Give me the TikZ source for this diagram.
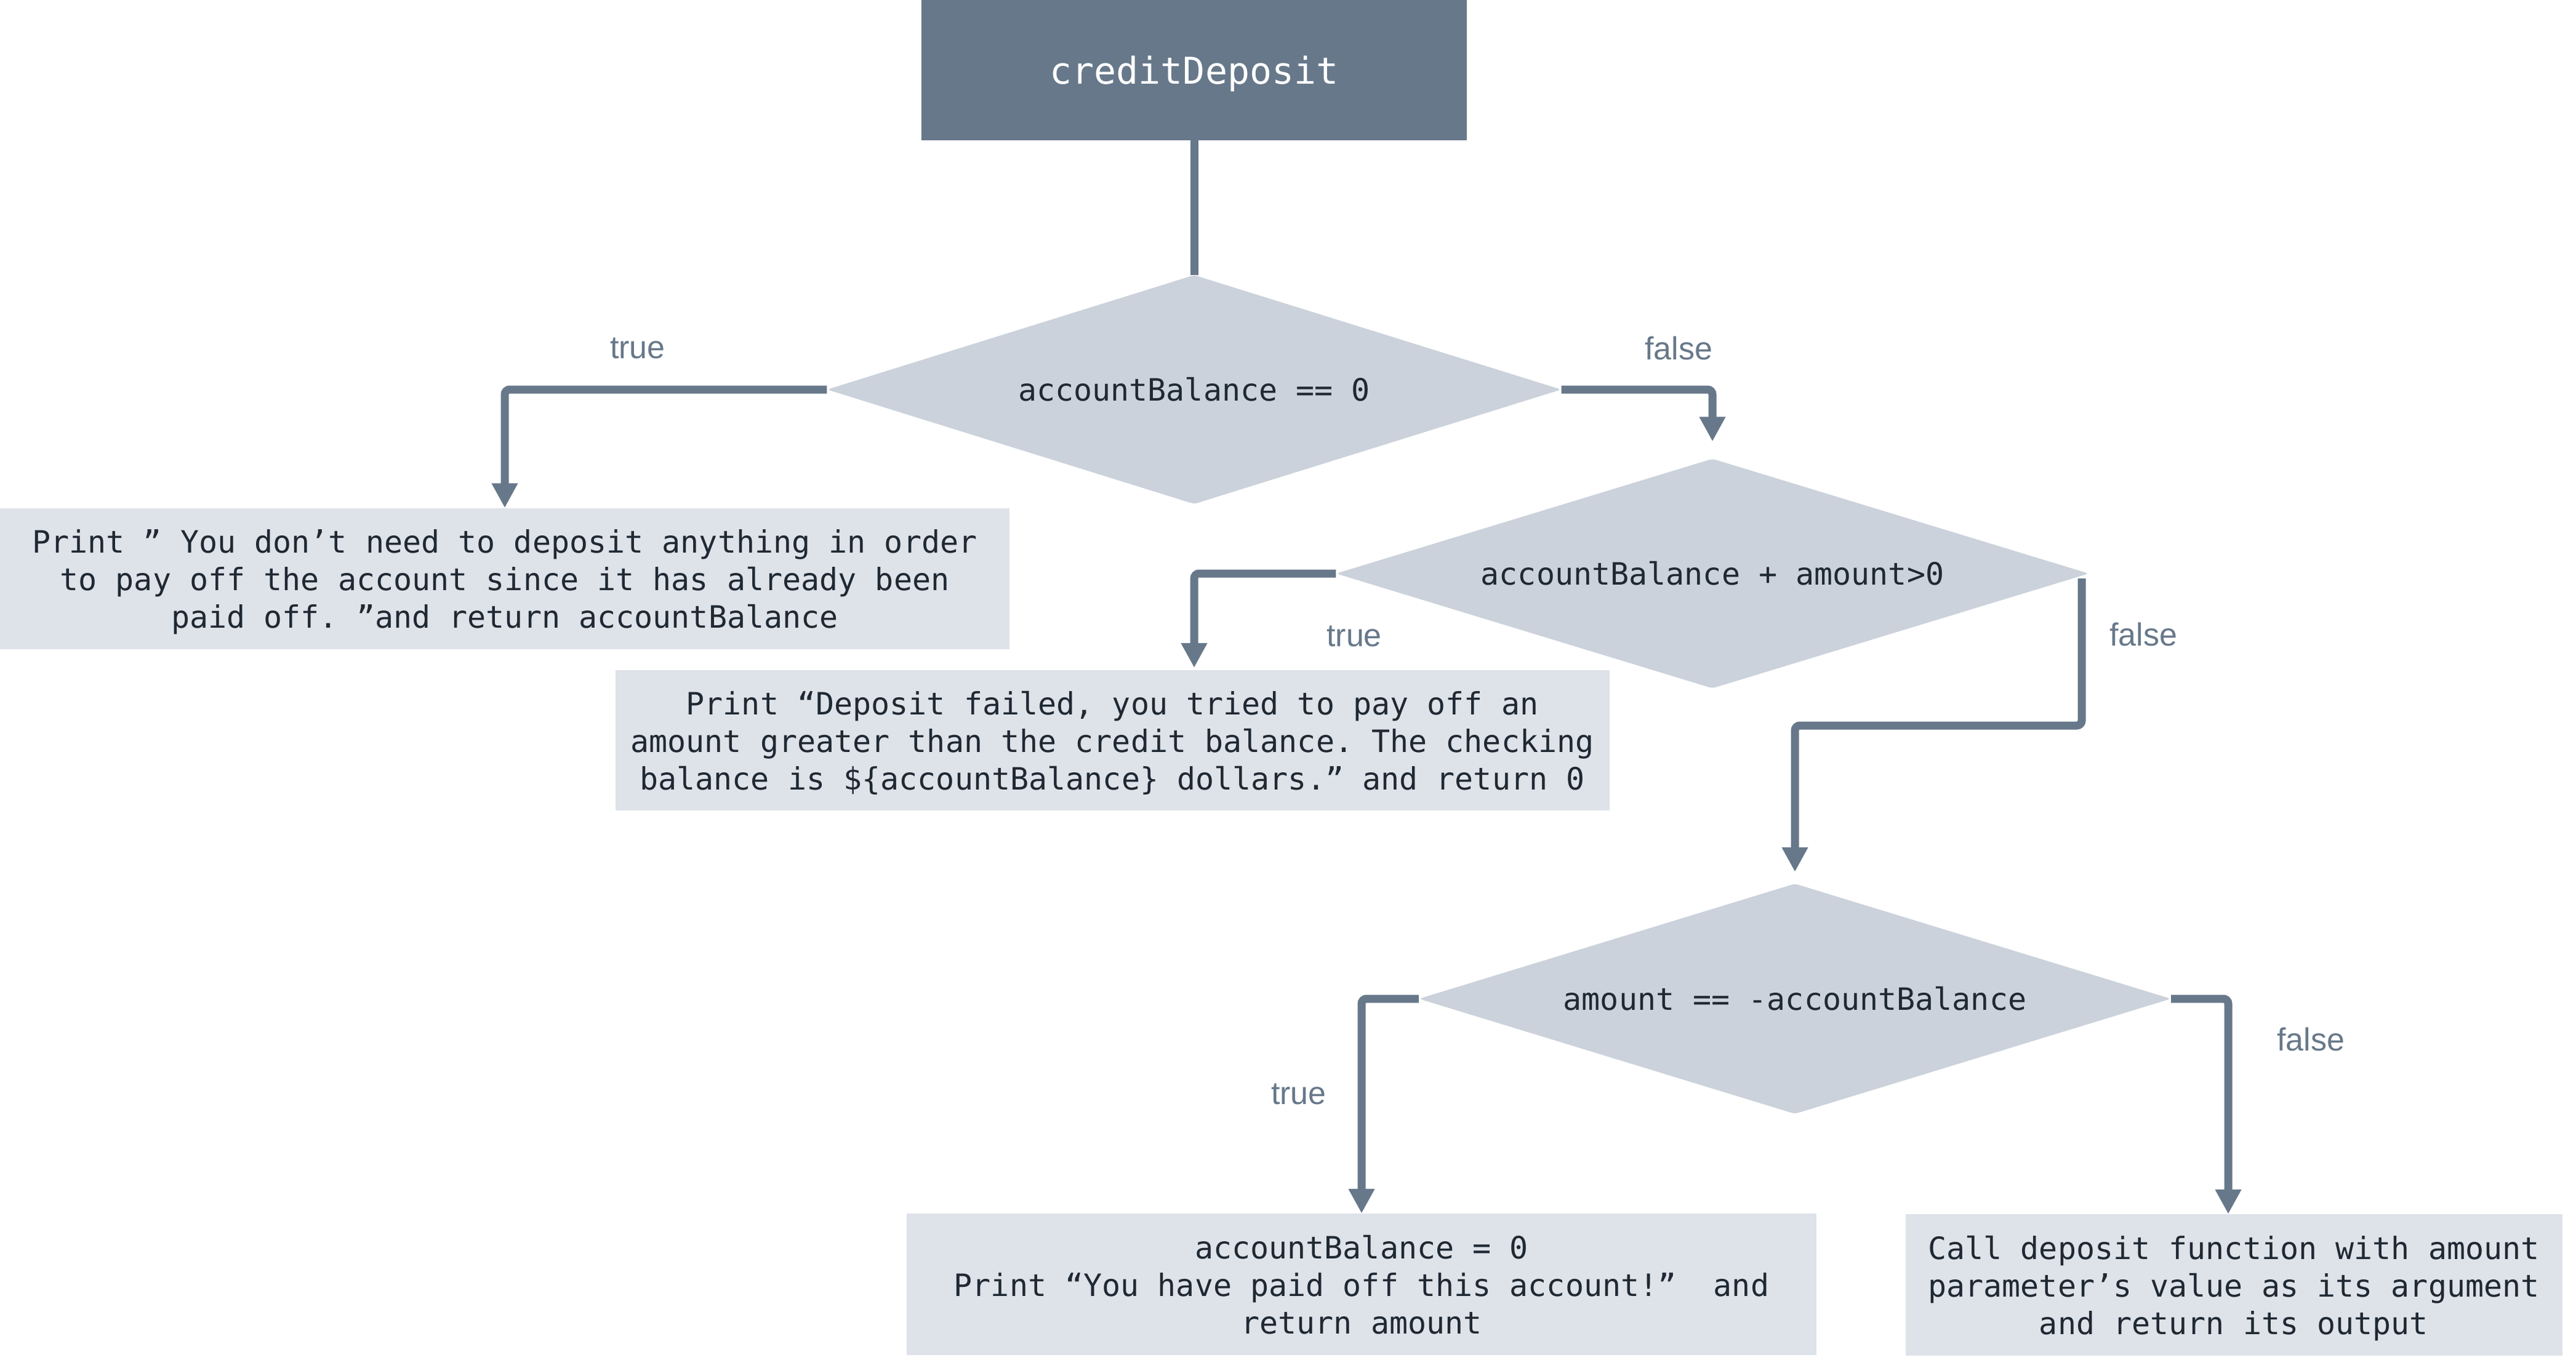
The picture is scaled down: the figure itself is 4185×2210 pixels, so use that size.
\documentclass[tikz,border=0pt]{standalone}
\usepackage{fontspec}
\setmonofont{DejaVu Sans Mono}
\setsansfont{Liberation Sans}
\usetikzlibrary{shapes.geometric,arrows.meta}
\definecolor{slate}{HTML}{67788A}
\definecolor{dfill}{HTML}{CBD2DB}
\definecolor{bfill}{HTML}{DEE2E9}
\definecolor{ink}{HTML}{1F2933}
\tikzset{
  startbox/.style={rectangle, fill=slate, text=white, inner sep=0pt, text depth=0pt,
    font=\ttfamily\fontsize{60}{72}\selectfont},
  decision/.style={diamond, fill=dfill, aspect=3.2, inner sep=0pt, rounded corners=6pt,
    text=ink, font=\ttfamily\fontsize{50}{61}\selectfont},
  actbox/.style={rectangle, fill=bfill, inner sep=0pt, align=center, text depth=0pt,
    text=ink, font=\ttfamily\fontsize{50}{61}\selectfont},
  conn/.style={draw=slate, line width=13pt, rounded corners=8pt},
  arr/.style={conn, -{Triangle[length=40pt,width=40pt]}},
  lbl/.style={text=slate, inner sep=0pt, font=\sffamily\fontsize{52}{60}\selectfont}
}
\begin{document}
\begin{tikzpicture}[x=1pt,y=-1pt]
\useasboundingbox (0,0) rectangle (4185,2210);
% nodes
\node[startbox, minimum width=886pt, minimum height=228pt] (top) at (1940,114) {creditDeposit};
\node[decision, minimum width=1193pt, minimum height=372pt] (d1) at (1940,633) {accountBalance == 0};
\node[decision, minimum width=1223pt, minimum height=373pt] (d2) at (2782,932) {accountBalance + amount>0};
\node[decision, minimum width=1222pt, minimum height=374pt] (d3) at (2916,1623) {amount == -accountBalance};
\node[actbox, minimum width=1640pt, minimum height=229pt] (b1) at (820,940)
  {Print ” You don’t need to deposit anything in order\\to pay off the account since it has already been\\paid off. ”and return accountBalance};
\node[actbox, minimum width=1615pt, minimum height=228pt] (b2) at (1807,1203)
  {Print “Deposit failed, you tried to pay off an\\amount greater than the credit balance. The checking\\balance is \$\{accountBalance\} dollars.” and return 0};
\node[actbox, minimum width=1478pt, minimum height=230pt] (b3) at (2212,2087)
  {accountBalance = 0\\Print “You have paid off this account!”\ \ and\\return amount};
\node[actbox, minimum width=1067pt, minimum height=230pt] (b4) at (3629,2088)
  {Call deposit function with amount\\parameter’s value as its argument\\and return its output};
% bend points
\coordinate (t2) at (1940,1085);
\coordinate (f2s) at (3382,940);
\coordinate (f2b) at (3382,1179);
% connectors
\draw[conn] (top.south) -- (d1.north);
\draw[arr] (d1.west) -| (b1.north);
\draw[arr] (d1.east) -| ([yshift=28pt]d2.north);
\draw[arr] (d2.west) -| (t2);
\draw[arr] (f2s) -- (f2b) -| ([yshift=19pt]d3.north);
\draw[arr] (d3.west) -| (b3.north);
\draw[arr] (d3.east) -| ([xshift=-9pt]b4.north);
% labels
\node[lbl] (l1) at (1036,566) {true};
\node[lbl] (l2) at (2727,566) {false};
\node[lbl] (l3) at (2200,1034) {true};
\node[lbl] (l4) at (3482,1031) {false};
\node[lbl] (l5) at (2110,1778) {true};
\node[lbl] (l6) at (3754,1689) {false};
\end{tikzpicture}
\end{document}
